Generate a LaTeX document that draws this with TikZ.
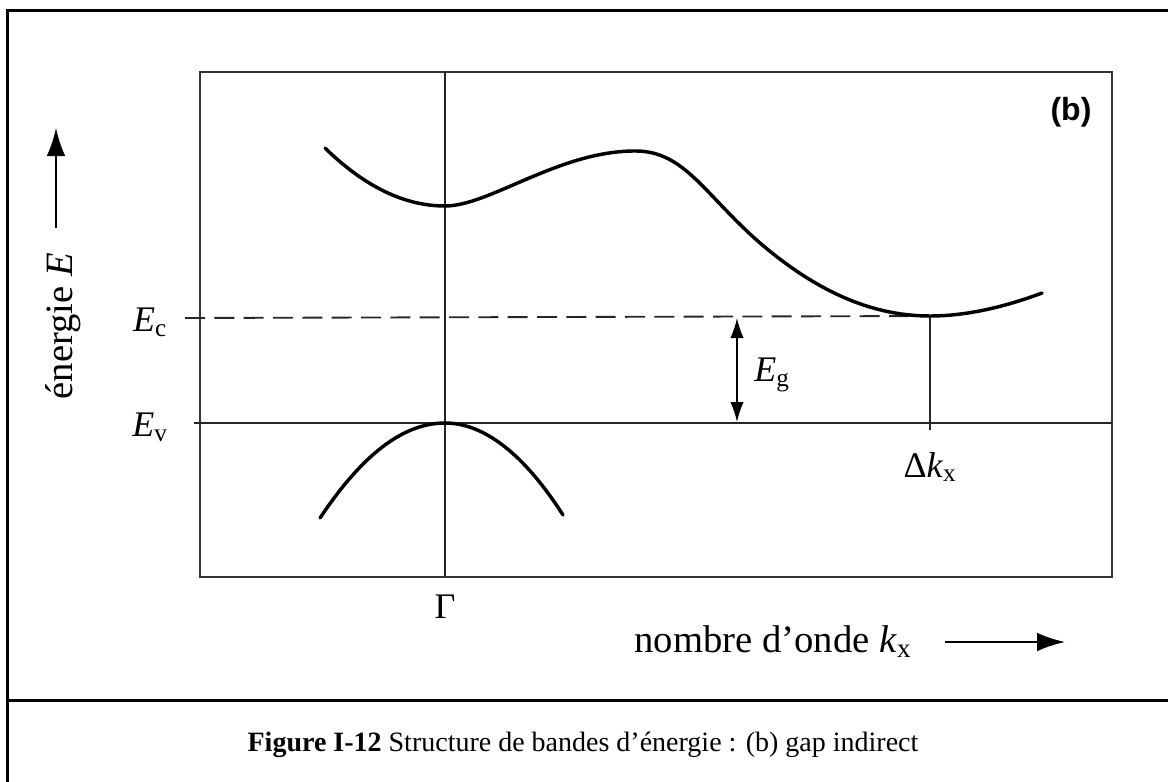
\documentclass[tikz,border=0pt]{standalone}
\usepackage{fontspec}
\setmainfont{Liberation Serif}
\newfontfamily\panelfont{Liberation Sans}
\usetikzlibrary{arrows.meta}

\tikzset{
  frameline/.style={line width=2.25pt},
  boxline/.style={line width=1.6pt, black!80},
  bandline/.style={line width=2.6pt, line cap=round},
  levelline/.style={line width=1.4pt, black!85},
  axisarrow/.style={line width=1.5pt, -{Latex[length=21pt,width=14pt]}},
  gaparrow/.style={line width=1.1pt, {Latex[length=15pt,width=10pt]}-{Latex[length=15pt,width=10pt]}},
  lbl/.style={font=\fontsize{27}{31}\selectfont, inner sep=0pt},
  axislbl/.style={font=\fontsize{29}{33}\selectfont, inner sep=0pt},
}
\newcommand{\ensub}[2]{\textit{#1}\textsubscript{#2}}

\begin{document}
\begin{tikzpicture}[x=0.75pt,y=0.75pt,yscale=-1,xscale=1]
\useasboundingbox (0,0) rectangle (1168,782);
%Outer frame
\draw[frameline] (7,782) -- (7,10) -- (1168,10);
\draw[frameline] (7,700) -- (1168,700);
%Inner box
\coordinate (tl) at (200,72);
\coordinate (br) at (1112,577);
\draw[boxline] (tl) rectangle (br);
%Gamma line
\coordinate (gtop) at (445,72);
\coordinate (gbot) at (445,577);
\draw[levelline] (gtop) -- (gbot);
%Band edges
\coordinate (cmin) at (930,316);
\coordinate (vmax) at (445,423);
\coordinate (ecl) at (185,318);
\coordinate (evl) at (194,423);
\coordinate (evr) at (1112,423);
\coordinate (dkbot) at (930,430);
\draw[levelline] (evl) -- (evr);
\draw[levelline, dash pattern=on 15pt off 7pt] (ecl) -- (cmin);
\draw[levelline] (cmin) -- (dkbot);
%Conduction band
\draw[bandline] (325,148) .. controls (365,187) and (405,206) .. (445,206) .. controls (490,206) and (560,150) .. (637,151) .. controls (685,152) and (705,195) .. (760,243) .. controls (815,290) and (870,316) .. (cmin) .. controls (970,316) and (1010,305) .. (1042,293);
%Valence band
\draw[bandline] (320,518) .. controls (362,455) and (403,423) .. (vmax) .. controls (484,423) and (524,454) .. (563,515);
%Gap arrow
\coordinate (egtop) at (737,318);
\coordinate (egbot) at (737,422);
\draw[gaparrow] (egtop) -- (egbot);
% Text Node
\node[lbl] (ec) at (150,322) {\ensub{E}{c}};
\node[lbl] (ev) at (150,427) {\ensub{E}{v}};
\node[lbl] (eg) at (772,375) {\ensub{E}{g}};
\node[lbl] (dk) at (930,467) {Δ\ensub{k}{x}};
\node[lbl] (gamma) at (445,607) {Γ};
\node[inner sep=0pt, font=\panelfont\bfseries\fontsize{24}{28}\selectfont] (panel) at (1071,112) {(b)};
% Axis labels
\node[axislbl, rotate=90] (elabel) at (63,326) {énergie \textit{E}};
\coordinate (eaxtail) at (56,228);
\coordinate (eaxtip) at (56,128);
\draw[axisarrow] (eaxtail) -- (eaxtip);
\node[axislbl] (klabel) at (773,642) {nombre d’onde \ensub{k}{x}};
\coordinate (kaxtail) at (945,642);
\coordinate (kaxtip) at (1065,642);
\draw[axisarrow] (kaxtail) -- (kaxtip);
% Caption
\node[font=\fontsize{21}{25}\selectfont, inner sep=0pt] (caption) at (583,745) {\textbf{Figure I-12} Structure de bandes d’énergie : (b) gap indirect};
\end{tikzpicture}
\end{document}
